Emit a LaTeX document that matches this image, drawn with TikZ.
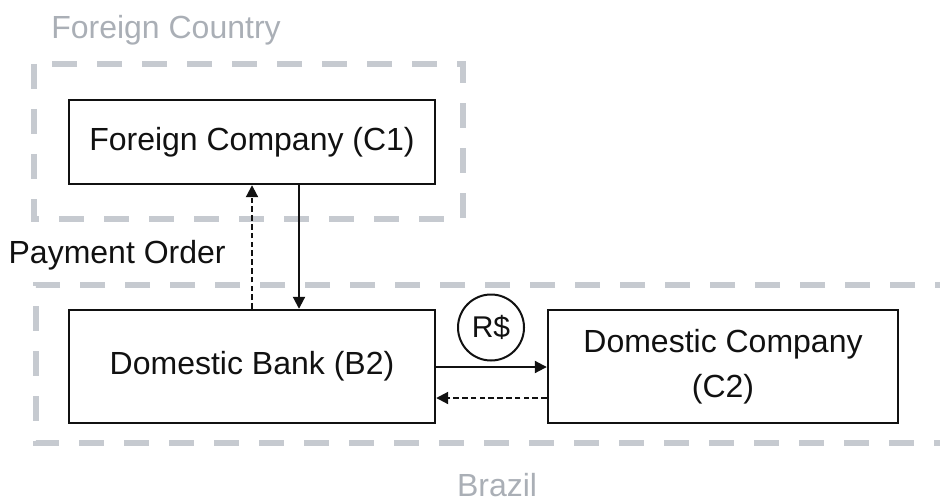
\documentclass[tikz,border=0pt]{standalone}
\usepackage{fontspec}
\setmainfont{Liberation Sans}
\usetikzlibrary{arrows.meta}
\definecolor{regionline}{HTML}{C6CAD0}
\definecolor{regiontext}{HTML}{AAAFB6}
\definecolor{ink}{HTML}{111111}
\tikzset{
  region/.style={draw=regionline, line width=2.6pt, dash pattern=on 12.5pt off 10pt},
  regionlabel/.style={text=regiontext, font=\fontsize{16}{19}\selectfont},
  party/.style={draw=ink, line width=1.2pt, rectangle, align=center, text=ink,
    font=\fontsize{16}{19}\selectfont, inner sep=0pt},
  flow/.style={draw=ink, line width=1pt, -{Triangle[length=6pt,width=6pt]}},
  reply/.style={flow, dash pattern=on 2.8pt off 1.6pt},
  coin/.style={draw=ink, line width=1pt, circle, minimum size=33pt, inner sep=0pt,
    text=ink, font=\fontsize{15}{18}\selectfont},
}
\begin{document}
\begin{tikzpicture}[x=0.5pt, y=-0.5pt]
  \useasboundingbox (0,0) rectangle (940,497);
  \clip (0,0) rectangle (940,497);

  % country regions
  \draw[region] (34,64) rectangle (463,219);
  \draw[region] (960,285) -- (36,285) -- (36,443) -- (960,443);
  \node[regionlabel] (fc) at (166,30) {Foreign Country};
  \node[regionlabel] (br) at (497,485) {Brazil};

  % parties
  \node[party, minimum width=183pt, minimum height=42pt] (c1) at (252,142) {Foreign Company (C1)};
  \node[party, minimum width=183pt, minimum height=56.5pt] (b2) at (252,366.5) {Domestic Bank (B2)};
  \node[party, minimum width=175pt, minimum height=56.5pt] (c2) at (723,366.5) {Domestic Company\\[3.5pt](C2)};

  % payment order between the banks and companies
  \draw[reply] (b2.north -| 252,0) -- (c1.south -| 252,0);
  \draw[flow] (c1.south -| 299,0) -- (b2.north -| 299,0);
  \node[text=ink, font=\fontsize{16}{19}\selectfont, anchor=east, inner sep=0pt] (po) at (226,255) {Payment Order};

  % domestic transfer in reais
  \draw[flow] (b2.east |- 0,367) -- (c2.west |- 0,367);
  \draw[reply] (c2.west |- 0,398) -- (b2.east |- 0,398);
  \node[coin] (rs) at (491,327.5) {R\$};
\end{tikzpicture}
\end{document}
